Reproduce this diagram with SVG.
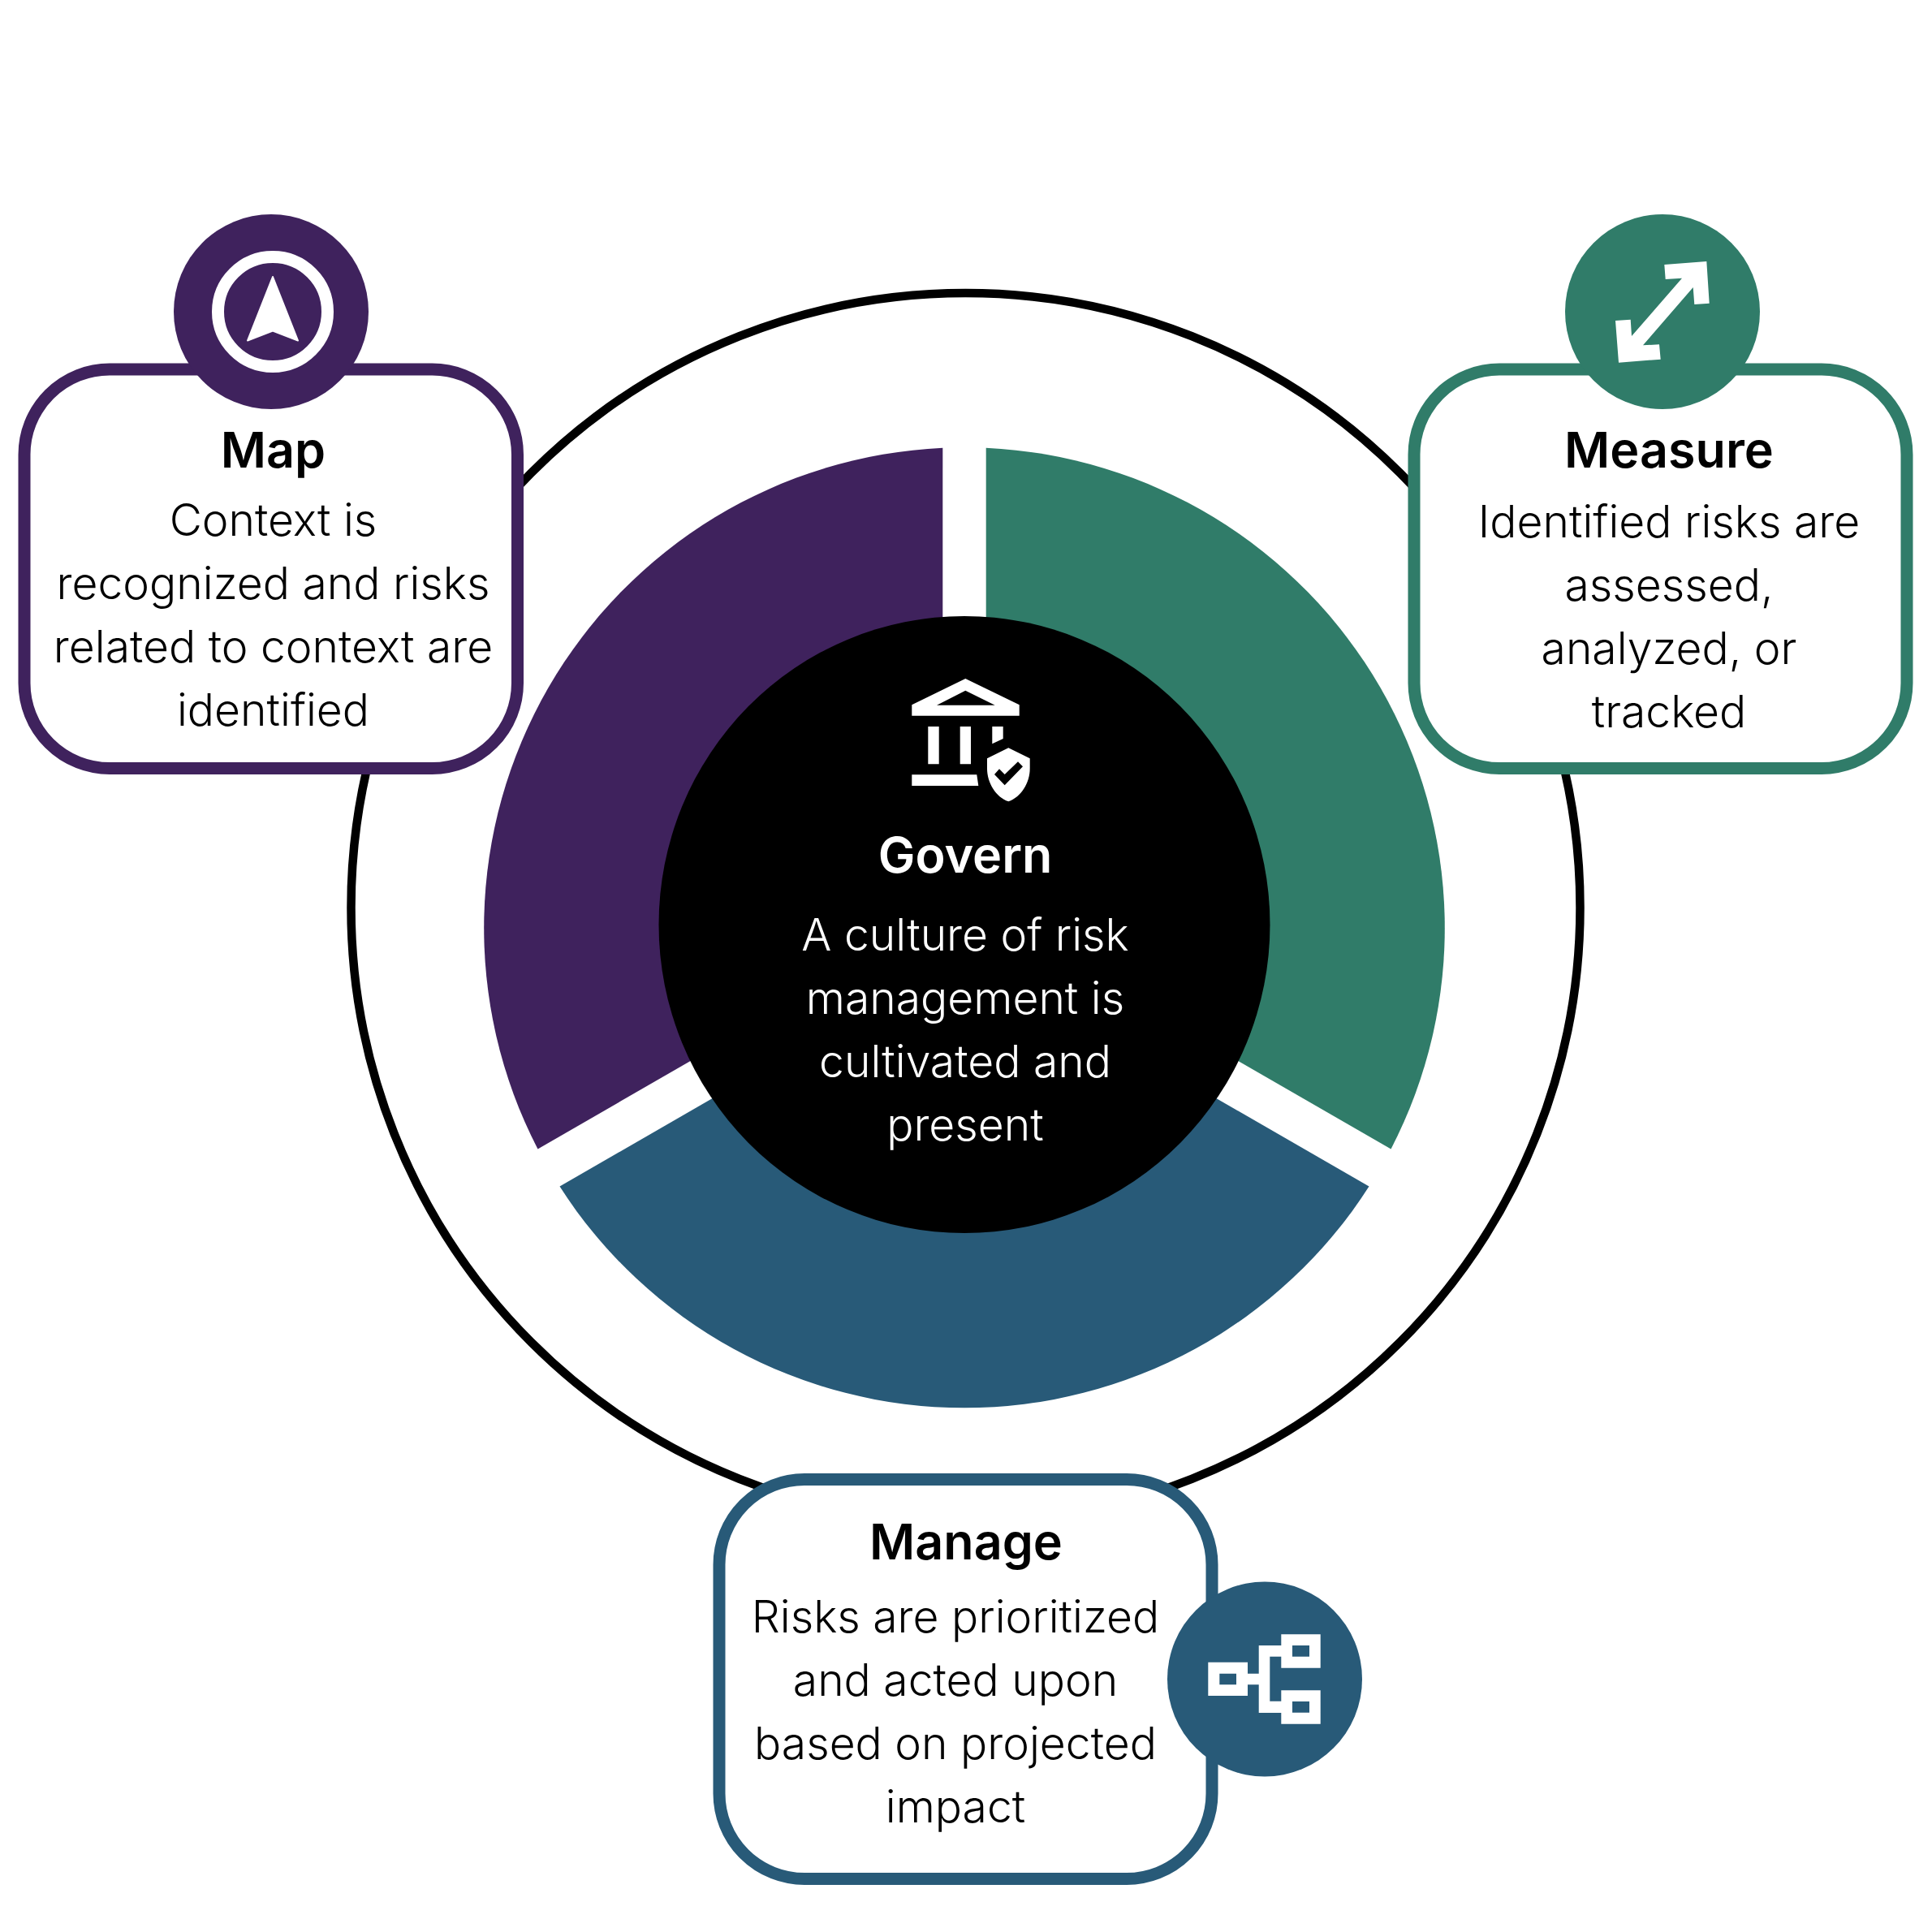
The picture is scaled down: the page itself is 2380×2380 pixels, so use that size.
<svg xmlns="http://www.w3.org/2000/svg" width="2380" height="2380" viewBox="0 0 2380 2380">
<style>
text{font-family:"Inter","Noto Sans","Liberation Sans",sans-serif;text-anchor:middle}
.t{font-size:61px;font-weight:570;fill:#000}
.b{font-size:55.200px;font-weight:290;fill:#000}
.w{fill:#fff}
.box{fill:#fff;stroke-width:15}
.ic{fill:#fff;fill-rule:evenodd}
</style>
<rect width="2380" height="2380" fill="#fff"/>
<g id="connectors"><circle cx="1189.500" cy="1118" r="757" fill="none" stroke="#000" stroke-width="10.500"/></g>
<g id="segments">
<path id="seg-map" fill="#3f225d" d="M1161.300 551.800A592 592 0 0 0 662.500 1415.400L1161.300 1128Z"/>
<path id="seg-measure" fill="#307c69" d="M1214.700 551.800A592 592 0 0 1 1713.500 1415.400L1214.700 1128Z"/>
<path id="seg-manage" fill="#285a78" d="M689.500 1461.600A592 592 0 0 0 1686.500 1461.600L1188 1174Z"/>
</g>
<g id="govern">
<ellipse cx="1188" cy="1139" rx="376.500" ry="380"/>
<path class="ic" d="M1123.300 868.300L1189.300 836L1255.700 868.300V881.700H1123.300ZM1154 868.700H1225.700L1189.300 850.700Z"/>
<path class="ic" d="M1143.300 895H1156.700V941.300H1143.300ZM1182.700 895H1196V941.300H1182.700ZM1222.300 895H1235.700V910L1222.300 916.300ZM1123.300 954.300H1203.300L1205.300 968H1123.300Z"/>
<path class="ic" d="M1242.300 921.300L1268.700 934.300V946.700C1268.700 964 1258 982 1242.300 987.300C1226.700 982 1216 964 1216 946.700V934.300ZM1225 954L1231 947.300L1237.700 954L1254 938.300L1260 944.300L1237.700 967.300Z"/>
<text class="t w" x="1189" y="1075">Govern</text>
<text class="b w" x="1189" y="1171">A culture of risk</text>
<text class="b w" x="1189" y="1249">management is</text>
<text class="b w" x="1189" y="1327">cultivated and</text>
<text class="b w" x="1189" y="1405">present</text>
</g>
<g id="map">
<rect class="box" x="30" y="455" width="607.500" height="491.500" rx="105" stroke="#3f225d"/>
<circle cx="334" cy="384" r="120" fill="#3f225d"/>
<circle cx="336" cy="384" r="67.500" fill="none" stroke="#fff" stroke-width="15"/>
<path fill="#fff" stroke="#fff" stroke-width="2" stroke-linejoin="round" d="M336 341L367 419.500L336 407.500L305 419.500Z"/>
<text class="t" x="336.500" y="576">Map</text>
<text class="b" x="336.500" y="659.500">Context is</text>
<text class="b" x="336.500" y="737.500">recognized and risks</text>
<text class="b" x="336.500" y="815.500">related to context are</text>
<text class="b" x="336.500" y="893.500">identified</text>
</g>
<g id="measure">
<rect class="box" x="1742" y="455" width="607" height="491.500" rx="105" stroke="#307c69"/>
<circle cx="2048" cy="384" r="120" fill="#307c69"/>
<path fill="#fff" d="M2050.300 326L2102.300 322L2105.700 373.700L2087.300 375L2085.700 354L2024 425.300L2044 424.300L2045.700 442.700L1994 446.700L1990 395L2008.700 393.700L2010 414L2072 342.700L2051.700 344Z"/>
<text class="t" x="2056" y="576">Measure</text>
<text class="b" x="2056" y="661.500">Identified risks are</text>
<text class="b" x="2056" y="739.500">assessed,</text>
<text class="b" x="2056" y="817.500">analyzed, or</text>
<text class="b" x="2056" y="895.500">tracked</text>
</g>
<g id="manage">
<rect class="box" x="886" y="1822.500" width="607" height="492" rx="105" stroke="#285a78"/>
<circle cx="1558" cy="2068.500" r="120" fill="#285a78"/>
<path class="ic" d="M1488.300 2047.700H1537V2061.700H1550.700V2027H1578.300V2013.300H1626.700V2054.700H1578.300V2040.700H1564.300V2095.700H1578.300V2082.300H1626.700V2123.700H1578.300V2110H1550.700V2075.300H1537V2089H1488.300ZM1502.300 2061.700V2075.300H1523V2061.700ZM1592 2027V2040.700H1613V2027ZM1592 2096V2109.700H1613V2096Z"/>
<text class="t" x="1190" y="1921">Manage</text>
<text class="b" x="1177" y="2010.500">Risks are prioritized</text>
<text class="b" x="1177" y="2088.500">and acted upon</text>
<text class="b" x="1177" y="2166.500">based on projected</text>
<text class="b" x="1177" y="2244.500">impact</text>
</g>
</svg>
